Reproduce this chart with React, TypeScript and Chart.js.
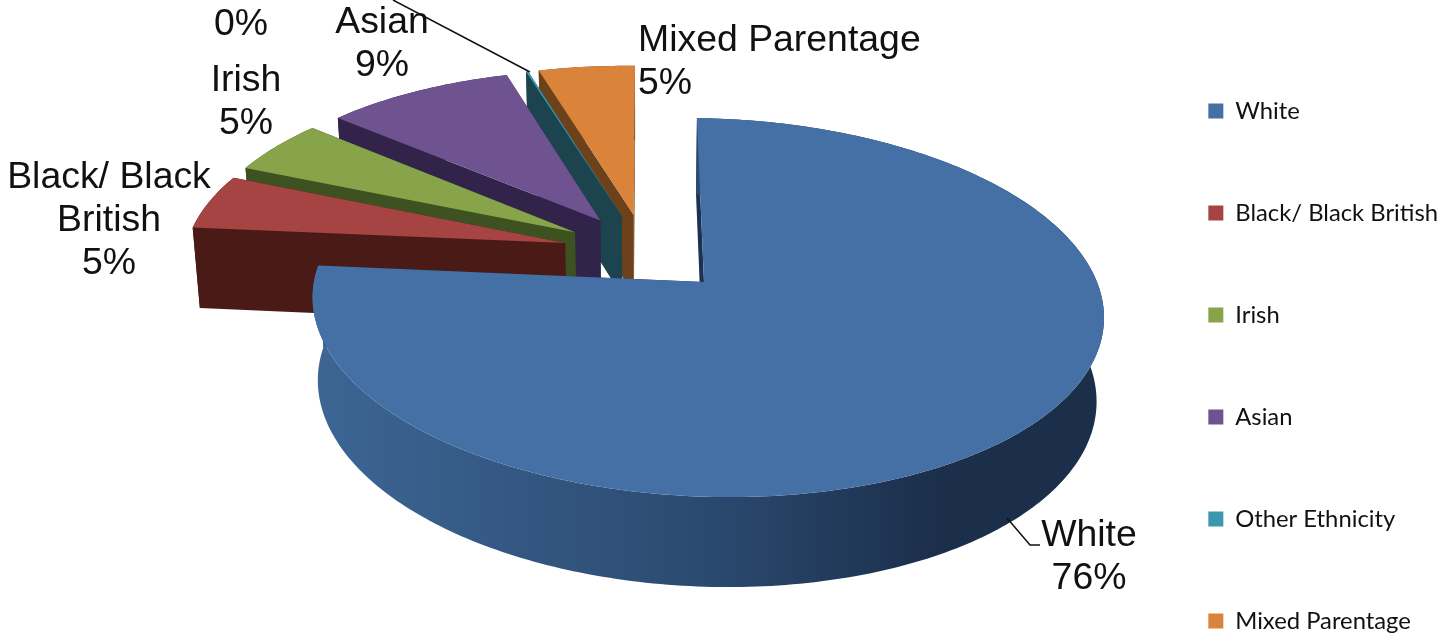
import React, { useEffect, useRef } from "react";
import { Chart, registerables } from "chart.js";

Chart.register(...registerables);

const categories = ["White", "Black/ Black British", "Irish", "Asian", "Other Ethnicity", "Mixed Parentage"];
const shares = [76, 5, 5, 9.3, 0.1, 4.7];
const topColors = ["#4570a6", "#a54442", "#87a44a", "#6f5290", "#3c96ae", "#d9833b"];
const wallColors = ["#1d3250", "#4a1a16", "#3e5120", "#32234a", "#1b444f", "#6d421a"];

// Data label blocks: one centred text block per slice, the last line is the percentage.
const labelLines: string[][] = [["White"], ["Black/ Black", "British"], ["Irish"], ["Asian"], [], ["Mixed Parentage"]];
const labelAnchors = [
  { x: 1089, y: 536, align: "center" },
  { x: 109, y: 178, align: "center" },
  { x: 246, y: 81, align: "center" },
  { x: 382, y: 23, align: "center" },
  { x: 241, y: 25, align: "center" },
  { x: 638, y: 41, align: "left" },
];

// Perspective of the pie disc, relative to the apex of the largest slice.
const VIEW = { ax: 704, ay: 282, r: 392, tilt: 186, roll: 6, skew: 8, k: 0.1346, m: 0.008 };
const EXPLODE = 0.217;
const DEPTH = 82.5;
const VANISH_X = 640;
const CONVERGE = 0.016;

function project(u: number, v: number) {
  const w = 1 - VIEW.k * v - VIEW.m * u;
  return {
    x: VIEW.ax + (VIEW.r * u + VIEW.skew * v) / w,
    y: VIEW.ay + (VIEW.tilt * v + VIEW.roll * u) / w,
    w,
  };
}

function dropped(p: { x: number; y: number; w: number }) {
  return { x: p.x + (VANISH_X - p.x) * CONVERGE, y: p.y + DEPTH / Math.pow(p.w, 0.6), w: p.w };
}

type Pt = { x: number; y: number; w: number };

function fillPoly(ctx: CanvasRenderingContext2D, pts: Pt[], fill: string | CanvasGradient) {
  ctx.beginPath();
  pts.forEach((p, i) => (i ? ctx.lineTo(p.x, p.y) : ctx.moveTo(p.x, p.y)));
  ctx.closePath();
  ctx.fillStyle = fill;
  ctx.fill();
}

const solidPie = {
  id: "solidPie",
  beforeDatasetsDraw(chart: any) {
    const { ctx } = chart;
    const arcs = chart.getDatasetMeta(0).data as any[];
    const mid = (a: any) => (a.startAngle + a.endAngle) / 2;
    const ou = EXPLODE * Math.cos(mid(arcs[0]));
    const ov = EXPLODE * Math.sin(mid(arcs[0]));

    // Far slices first, the big front slice last.
    for (let i = arcs.length - 1; i >= 0; i--) {
      const a = arcs[i];
      const du = EXPLODE * Math.cos(mid(a)) - ou;
      const dv = EXPLODE * Math.sin(mid(a)) - ov;
      const apex = project(du, dv);
      const steps = Math.max(4, Math.ceil((a.endAngle - a.startAngle) * 60));
      const rim: Pt[] = [];
      for (let s = 0; s <= steps; s++) {
        const t = a.startAngle + ((a.endAngle - a.startAngle) * s) / steps;
        rim.push(project(du + Math.cos(t), dv + Math.sin(t)));
      }
      const rimLow = rim.map(dropped);
      const apexLow = dropped(apex);
      const first = rim[0];
      const last = rim[rim.length - 1];

      fillPoly(ctx, [apex, first, dropped(first), apexLow], wallColors[i]);
      fillPoly(ctx, [apex, last, dropped(last), apexLow], wallColors[i]);

      let rimFill: string | CanvasGradient = wallColors[i];
      if (i === 0) {
        const g = ctx.createLinearGradient(310, 0, 1100, 0);
        g.addColorStop(0, "#3d6695");
        g.addColorStop(0.5, "#2b4a70");
        g.addColorStop(0.8, "#1b2e4a");
        g.addColorStop(1, "#1b2e4a");
        rimFill = g;
      }
      fillPoly(ctx, [...rim, ...rimLow.slice().reverse()], rimFill);
      fillPoly(ctx, [apex, ...rim], topColors[i]);
    }
    return false;
  },
  afterDraw(chart: any) {
    const { ctx } = chart;
    ctx.save();
    ctx.strokeStyle = "#111";
    ctx.lineWidth = 1.5;
    ctx.beginPath();
    ctx.moveTo(393, 0);
    ctx.lineTo(530, 72);
    ctx.moveTo(1007, 518);
    ctx.lineTo(1030, 545);
    ctx.lineTo(1040, 545);
    ctx.stroke();

    ctx.fillStyle = "#111";
    ctx.font = '37.4px "Liberation Sans"';
    ctx.textBaseline = "middle";
    labelAnchors.forEach((anchor, i) => {
      const lines = [...labelLines[i], `${Math.round(shares[i])}%`];
      ctx.textAlign = anchor.align;
      lines.forEach((line, n) => ctx.fillText(line, anchor.x, anchor.y + n * 43));
    });
    ctx.restore();
  },
};

export default function App() {
  const ref = useRef<HTMLCanvasElement>(null);
  useEffect(() => {
    const chart = new Chart(ref.current!, {
      type: "pie",
      data: {
        labels: categories,
        datasets: [{ data: shares, backgroundColor: topColors, borderWidth: 0 }],
      },
      options: {
        responsive: false,
        animation: false,
        layout: { padding: { top: 21 } },
        plugins: {
          tooltip: { enabled: false },
          legend: {
            position: "right",
            align: "start",
            labels: {
              boxWidth: 15,
              boxHeight: 15,
              padding: 78.2,
              color: "#111",
              font: { family: "Lato", size: 23.8 },
            },
          },
        },
      },
      plugins: [solidPie],
    } as any);
    return () => chart.destroy();
  }, []);
  return (
    <div style={{ position: "fixed", left: 0, top: 0, width: 1446, height: 642, overflow: "hidden", background: "#fff" }}>
      <canvas ref={ref} width={1448} height={720} style={{ display: "block" }} />
    </div>
  );
}
